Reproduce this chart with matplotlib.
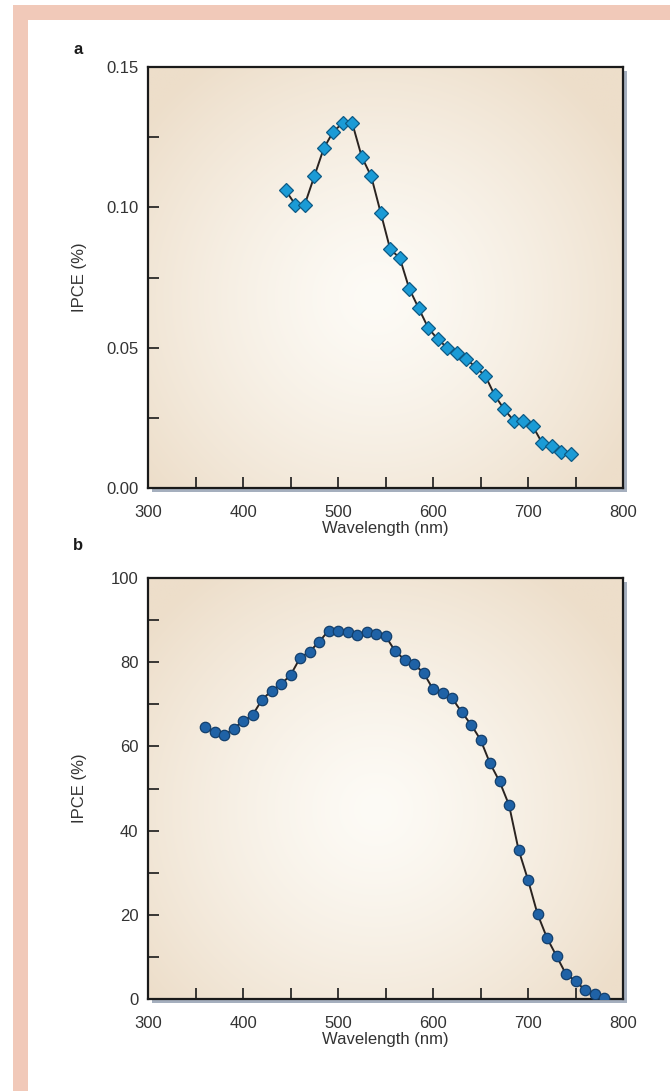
import matplotlib
matplotlib.use('Agg')
import matplotlib.pyplot as plt
import matplotlib.patheffects as pe
from matplotlib.patches import Rectangle
from matplotlib.ticker import MultipleLocator
import numpy as np

plt.rcParams['font.family'] = ['Liberation Sans', 'DejaVu Sans']

# panel a: IPCE (%) vs wavelength
wl_a = [445, 455, 465, 475, 485, 495, 505, 515, 525, 535, 545, 555, 565, 575, 585, 595,
        605, 615, 625, 635, 645, 655, 665, 675, 685, 695, 705, 715, 725, 735, 745]
ipce_a = [0.106, 0.101, 0.101, 0.111, 0.121, 0.127, 0.130, 0.130, 0.118, 0.111, 0.098,
          0.085, 0.082, 0.071, 0.064, 0.057, 0.053, 0.050, 0.048, 0.046, 0.043, 0.040,
          0.033, 0.028, 0.024, 0.024, 0.022, 0.016, 0.015, 0.013, 0.012]

# panel b
wl_b = list(range(360, 790, 10))
ipce_b = [64.6, 63.4, 62.6, 64.2, 66.0, 67.4, 71.1, 73.2, 74.8, 76.9, 81.0, 82.5, 84.8,
          87.5, 87.5, 87.2, 86.4, 87.1, 86.6, 86.2, 82.7, 80.6, 79.5, 77.5, 73.6, 72.7,
          71.5, 68.2, 65.2, 61.6, 56.0, 51.7, 46.1, 35.5, 28.3, 20.2, 14.5, 10.2, 5.9,
          4.3, 2.1, 1.3, 0.3]

W, H = 670, 1091
fig = plt.figure(figsize=(W / 100, H / 100), dpi=100)
fig.patch.set_facecolor('white')

# pink frame (top and left)
pink = '#f1c9b9'
fig.add_artist(Rectangle((13 / W, 1 - 20 / H), (W - 13) / W, 15 / H, transform=fig.transFigure,
                         facecolor=pink, edgecolor='none', zorder=0))
fig.add_artist(Rectangle((13 / W, 0), 15 / W, 1 - 5 / H, transform=fig.transFigure,
                         facecolor=pink, edgecolor='none', zorder=0))

# radial gradient for the plot background
gx, gy = np.meshgrid(np.linspace(0, 1, 300), np.linspace(0, 1, 300))
r = np.sqrt(((gx - 0.48) * 1.0) ** 2 + ((gy - 0.45) * 0.9) ** 2) / 0.62
r = np.clip(r, 0, 1) ** 1.3
c_in = np.array([253, 251, 246]) / 255
c_out = np.array([237, 222, 202]) / 255
grad = c_in[None, None, :] * (1 - r[..., None]) + c_out[None, None, :] * r[..., None]

txt = '#333333'


def setup(ax, ymax, ymaj, ymin, fmt):
    ax.imshow(grad, extent=(0, 1, 0, 1), transform=ax.transAxes, origin='lower',
              aspect='auto', zorder=0, interpolation='bilinear')
    ax.patch.set_path_effects([pe.SimplePatchShadow(offset=(3, -3), shadow_rgbFace='#7f8ea3',
                                                    alpha=0.7), pe.Normal()])
    ax.set_xlim(300, 800)
    ax.set_ylim(0, ymax)
    ax.xaxis.set_major_locator(MultipleLocator(100))
    ax.xaxis.set_minor_locator(MultipleLocator(50))
    ax.yaxis.set_major_locator(MultipleLocator(ymaj))
    ax.yaxis.set_minor_locator(MultipleLocator(ymin))
    ax.yaxis.set_major_formatter(fmt)
    for s in ax.spines.values():
        s.set_linewidth(1.6)
        s.set_color('#1a1a1a')
    ax.tick_params(which='both', direction='in', length=8, width=1.2, color='#1a1a1a',
                   top=False, right=False, labelsize=12, labelcolor=txt)
    ax.tick_params(axis='x', which='major', pad=12)
    ax.tick_params(axis='y', which='major', pad=7)
    ax.set_xlabel('Wavelength (nm)', fontsize=12, color=txt)
    ax.set_ylabel('IPCE (%)', fontsize=12, color=txt)
    ax.xaxis.set_label_coords(0.5, -0.078)
    ax.yaxis.set_label_coords(-0.128, 0.5)


ax1 = fig.add_axes([148 / W, 1 - 488 / H, 475 / W, 421 / H])
setup(ax1, 0.15, 0.05, 0.025, '{x:.2f}')
ax1.plot(wl_a, ipce_a, '-', color='#2a2320', lw=1.4, zorder=2)
ax1.plot(wl_a, ipce_a, 'D', ms=7, mfc='#1b9bd6', mec='#0d5a85', mew=0.9, zorder=3)

ax2 = fig.add_axes([148 / W, 1 - 999 / H, 475 / W, 421 / H])
setup(ax2, 100, 20, 10, '{x:.0f}')
ax2.plot(wl_b, ipce_b, '-', color='#2a2320', lw=1.4, zorder=2)
ax2.plot(wl_b, ipce_b, 'o', ms=7.5, mfc='#1f62a6', mec='#133f6c', mew=0.9, zorder=3)

fig.text(73 / W, 1 - 49 / H, 'a', fontsize=12, fontweight='bold', color='#1a1a1a',
         va='center')
fig.text(73 / W, 1 - 545 / H, 'b', fontsize=12, fontweight='bold', color='#1a1a1a',
         va='center')

fig.savefig('out.png', dpi=100)
